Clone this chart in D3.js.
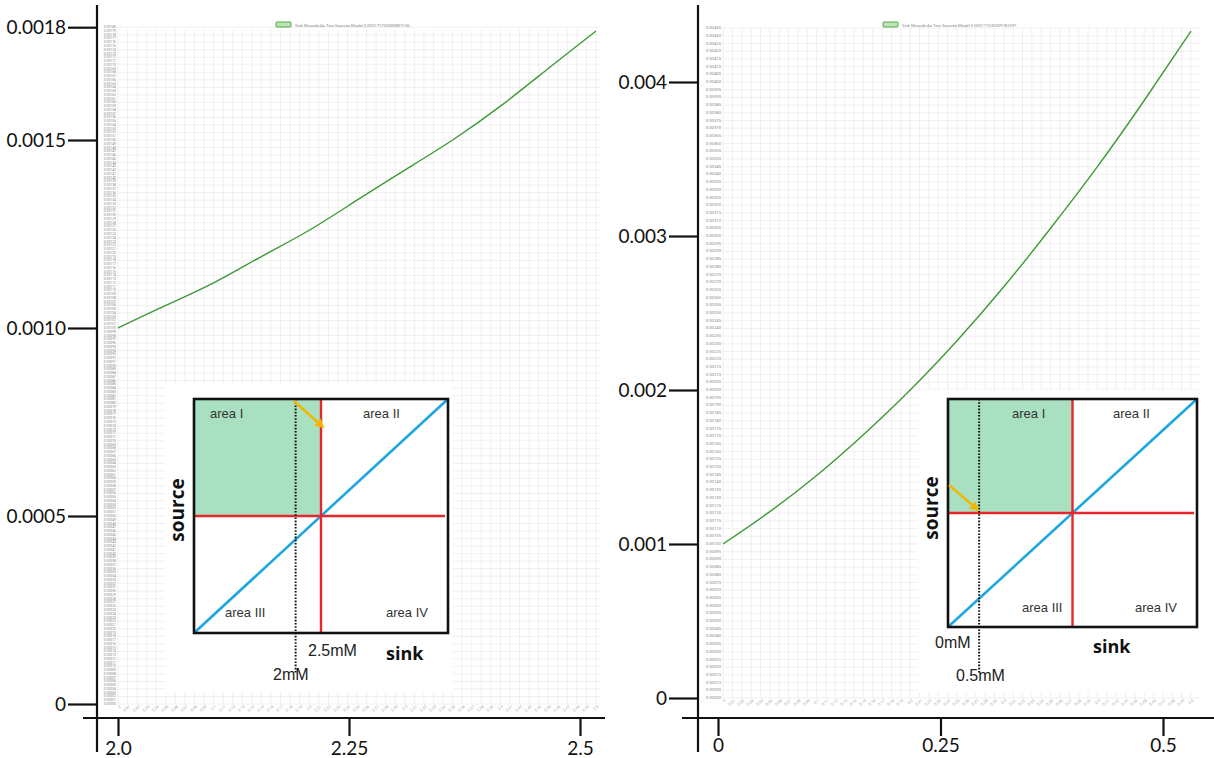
<!DOCTYPE html>
<html>
<head>
<meta charset="utf-8">
<script src="https://cdn.jsdelivr.net/npm/d3@7"></script>
<style>
  body { margin: 0; background: #fff; }
  svg { display: block; }
</style>
</head>
<body>
<svg id="chart" width="1214" height="758"></svg>
<script>
"use strict";

// curve values
const sinkA = [2.0, 2.05, 2.1, 2.15, 2.2, 2.25, 2.3, 2.35, 2.4, 2.45, 2.5];
const fluxA = [0.001, 0.00106, 0.00112, 0.00119, 0.00126, 0.00134, 0.00142, 0.0015, 0.00159, 0.00169, 0.00179];
const sinkB = [0, 0.05, 0.1, 0.15, 0.2, 0.25, 0.3, 0.35, 0.4, 0.45, 0.5];
const fluxB = [0.001, 0.00121, 0.001445, 0.00171, 0.002, 0.00232, 0.00267, 0.00305, 0.00345, 0.00388, 0.00433];

// outer axis ticks
const yTicksA = [0, 0.0005, 0.001, 0.0015, 0.0018];
const xTicksA = [2.0, 2.25, 2.5];
const yTicksB = [0, 0.001, 0.002, 0.003, 0.004];
const xTicksB = [0, 0.25, 0.5];

// legend texts (tiny, barely legible in the source)
const legendA = "Sink Mwords As Two Sources Model 0.000171703000897136";
const legendB = "Sink Mwords As Two Sources Model 0.000171030009782391";

// inset diagram
const areaNames = ["area I", "area II", "area III", "area IV"];
const insetSinkA = [0, 5];      // domain (mM)
const insetMarksA = [2, 2.5];   // dotted line, red threshold
const insetLabelsA = ["2mM", "2.5mM"];
const insetSinkB = [0, 4];
const insetMarksB = [0.5, 2];
const insetLabelsB = ["0mM", "0.5mM"];

const svg = d3.select("#chart");
const tickFont = "Lato, 'Open Sans', sans-serif";

const panels = [
  {
    xs: sinkA, ys: fluxA, yTicks: yTicksA, xTicks: xTicksA, legend: legendA,
    yFmt: (d) => (d === 0 ? "0" : d.toFixed(4)),
    yPx: [704, 328], axisX: 97, axisY: 718, xAxisRange: [118, 580], xAxisLine: [83, 605],
    inner: [118, 596], gridTop: 30, gridRight: 600,
    innerYStep: 0.00001, innerYFont: 3.4, gridYStep: 0.00002, innerYMax: 0.0018,
    innerXStep: 0.01, legendX: 276, labelTop: 6,
    inset: { bg: [165, 383, 453, 692], box: [194, 399, 448, 633], sink: insetSinkA, marks: insetMarksA, labels: insetLabelsA,
      areas: [[210, 418], [363, 418], [225, 617], [386, 617]],
      markLabels: [[273, 680], [308, 656]], sinkLbl: [386, 660], srcLbl: [184, 510],
      arrow: [[294, 401], [323, 427]] }
  },
  {
    xs: sinkB, ys: fluxB, yTicks: yTicksB, xTicks: xTicksB, legend: legendB,
    yFmt: (d) => (d === 0 ? "0" : d.toFixed(3)),
    yPx: [698, 544], axisX: 698, axisY: 718, xAxisRange: [718, 1163], xAxisLine: [682, 1214],
    inner: [723, 1191], gridTop: 28, gridRight: 1200,
    innerYStep: 0.00005, innerYFont: 4.2, gridYStep: 0.00005, innerYMax: 0.00435,
    innerXStep: 0.01, legendX: 883, labelTop: 3,
    inset: { bg: [918, 390, 1212, 692], box: [948, 399, 1197, 627], sink: insetSinkB, marks: insetMarksB, labels: insetLabelsB,
      areas: [[1012, 418], [1113, 418], [1022, 612], [1135, 612]],
      markLabels: [[935, 648], [956, 681]], sinkLbl: [1093, 653], srcLbl: [938, 508],
      arrow: [[949, 485], [978, 510]] }
  }
];

svg.append("defs").append("marker")
  .attr("id", "arrowhead")
  .attr("viewBox", "0 0 10 10")
  .attr("refX", 8).attr("refY", 5)
  .attr("markerWidth", 4).attr("markerHeight", 4)
  .attr("orient", "auto")
  .append("path").attr("d", "M0,0L10,5L0,10z").attr("fill", "#f2b600");

const drawPanel = (p) => {
  const g = svg.append("g");
  const y = d3.scaleLinear().domain([0, 0.001]).range(p.yPx);
  const xIn = d3.scaleLinear().domain([p.xs[0], p.xs[p.xs.length - 1]]).range(p.inner);
  const xOut = d3.scaleLinear().domain([p.xTicks[0], p.xTicks[p.xTicks.length - 1]]).range(p.xAxisRange);
  const gridBottom = y(0);

  //inner chart grid
  const grid = g.append("g").attr("stroke", "#e6e6e6").attr("stroke-width", 0.6);
  grid.selectAll("line.h")
    .data(d3.range(0, p.innerYMax + 1e-9, p.gridYStep))
    .join("line")
    .attr("x1", p.inner[0]).attr("x2", p.gridRight)
    .attr("y1", (d) => y(d)).attr("y2", (d) => y(d));
  const xGrid = d3.range(xIn.domain()[0], xIn.domain()[1] + 1e-9, p.innerXStep);
  grid.selectAll("line.v")
    .data(xGrid)
    .join("line")
    .attr("x1", (d) => xIn(d)).attr("x2", (d) => xIn(d))
    .attr("y1", p.gridTop).attr("y2", gridBottom);

  //inner tick labels (tiny grey)
  g.append("g").selectAll("text")
    .data(d3.range(0, p.innerYMax + 1e-9, p.innerYStep))
    .join("text")
    .attr("x", p.inner[0] - 2).attr("y", (d) => y(d) + 1)
    .attr("text-anchor", "end")
    .attr("font-family", "Roboto, sans-serif")
    .attr("font-size", p.innerYFont)
    .attr("fill", "#888")
    .text((d) => d.toFixed(5));
  g.append("g").selectAll("text")
    .data(xGrid)
    .join("text")
    .attr("transform", (d) => `translate(${xIn(d) + 3},${gridBottom + 3}) rotate(-40)`)
    .attr("text-anchor", "end")
    .attr("font-family", "Roboto, sans-serif")
    .attr("font-size", 4)
    .attr("fill", "#aaa")
    .text((d) => +d.toFixed(2));

  //legend
  g.append("rect")
    .attr("x", p.legendX).attr("y", 22).attr("width", 15).attr("height", 5).attr("rx", 1)
    .attr("fill", "#bfe3b8").attr("stroke", "#4caa47").attr("stroke-width", 1);
  g.append("text")
    .attr("x", p.legendX + 19).attr("y", 26.5)
    .attr("font-family", "Roboto, sans-serif").attr("font-size", 4.2).attr("fill", "#888")
    .text(p.legend);

  //curve
  g.append("path")
    .datum(p.xs.map((d, i) => [d, p.ys[i]]))
    .attr("fill", "none")
    .attr("stroke", "#3f9a35")
    .attr("stroke-width", 1.4)
    .attr("d", d3.line().x((d) => xIn(d[0])).y((d) => y(d[1])).curve(d3.curveNatural));

  //outer axes
  const yAxis = d3.axisLeft(y).tickValues(p.yTicks).tickFormat(p.yFmt).tickSize(29).tickPadding(2).tickSizeOuter(0);
  const yG = g.append("g").attr("transform", `translate(${p.axisX},0)`).call(yAxis);
  yG.select(".domain").remove();
  const xAxis = d3.axisBottom(xOut).tickValues(p.xTicks).tickFormat((d) => (p.xTicks[0] === 2 && d === 2 ? "2.0" : d)).tickSize(18).tickPadding(p.labelTop).tickSizeOuter(0);
  const xG = g.append("g").attr("transform", `translate(0,${p.axisY})`).call(xAxis);
  xG.select(".domain").remove();
  [yG, xG].forEach((a) => {
    a.selectAll("line").attr("stroke", "#111").attr("stroke-width", 2.2);
    a.selectAll("text").attr("font-family", tickFont).attr("font-size", 19).attr("fill", "#111");
  });
  g.append("line")
    .attr("x1", p.axisX).attr("x2", p.axisX).attr("y1", 5).attr("y2", 752)
    .attr("stroke", "#111").attr("stroke-width", 2.2);
  g.append("line")
    .attr("x1", p.xAxisLine[0]).attr("x2", p.xAxisLine[1]).attr("y1", p.axisY).attr("y2", p.axisY)
    .attr("stroke", "#111").attr("stroke-width", 2.2);

  drawInset(g, p.inset);
};

const drawInset = (g, s) => {
  const [bx0, by0, bx1, by1] = s.box;
  const ix = d3.scaleLinear().domain(s.sink).range([bx0, bx1]);
  const iy = d3.scaleLinear().domain(s.sink).range([by1, by0]);
  const mid = (s.sink[0] + s.sink[1]) / 2;

  g.append("rect")
    .attr("x", s.bg[0]).attr("y", s.bg[1]).attr("width", s.bg[2] - s.bg[0]).attr("height", s.bg[3] - s.bg[1])
    .attr("fill", "#fff");
  // area I
  g.append("rect")
    .attr("x", ix(s.sink[0])).attr("y", iy(s.sink[1]))
    .attr("width", ix(mid) - ix(s.sink[0])).attr("height", iy(mid) - iy(s.sink[1]))
    .attr("fill", "#a9e0c2");
  // source == sink diagonal
  g.append("line")
    .attr("x1", ix(s.sink[0])).attr("y1", iy(s.sink[0]))
    .attr("x2", ix(s.sink[1])).attr("y2", iy(s.sink[1]))
    .attr("stroke", "#1ea6e0").attr("stroke-width", 2.6);
  // thresholds
  g.append("line")
    .attr("x1", ix(s.sink[0])).attr("x2", ix(s.sink[1]) - 3)
    .attr("y1", iy(mid)).attr("y2", iy(mid))
    .attr("stroke", "#e8262c").attr("stroke-width", 2.4);
  g.append("line")
    .attr("x1", ix(s.marks[1])).attr("x2", ix(s.marks[1]))
    .attr("y1", by0).attr("y2", by1)
    .attr("stroke", "#e8262c").attr("stroke-width", 2.4);
  g.append("rect")
    .attr("x", bx0).attr("y", by0).attr("width", bx1 - bx0).attr("height", by1 - by0)
    .attr("fill", "none").attr("stroke", "#111").attr("stroke-width", 2.6);
  // dotted marker
  g.append("line")
    .attr("x1", ix(s.marks[0])).attr("x2", ix(s.marks[0]))
    .attr("y1", by0).attr("y2", 673)
    .attr("stroke", "#111").attr("stroke-width", 2).attr("stroke-dasharray", "1.6,1.6");
  // orange arrow
  g.append("line")
    .attr("x1", s.arrow[0][0]).attr("y1", s.arrow[0][1])
    .attr("x2", s.arrow[1][0]).attr("y2", s.arrow[1][1])
    .attr("stroke", "#f2b600").attr("stroke-width", 2.4)
    .attr("marker-end", "url(#arrowhead)");

  g.append("g").selectAll("text")
    .data(areaNames)
    .join("text")
    .attr("x", (d, i) => s.areas[i][0]).attr("y", (d, i) => s.areas[i][1])
    .attr("font-family", "'Liberation Sans', Arial, sans-serif").attr("font-size", 13).attr("fill", "#333")
    .text((d) => d);
  g.append("g").selectAll("text")
    .data(s.labels)
    .join("text")
    .attr("x", (d, i) => s.markLabels[i][0]).attr("y", (d, i) => s.markLabels[i][1])
    .attr("font-family", "'Liberation Sans', Arial, sans-serif").attr("font-size", 16).attr("fill", "#222")
    .text((d) => d);
  g.append("text")
    .attr("x", s.sinkLbl[0]).attr("y", s.sinkLbl[1])
    .attr("font-family", "'Open Sans', sans-serif").attr("font-weight", 700).attr("font-size", 18).attr("fill", "#111")
    .text("sink");
  g.append("text")
    .attr("transform", `translate(${s.srcLbl[0]},${s.srcLbl[1]}) rotate(-90)`)
    .attr("text-anchor", "middle")
    .attr("font-family", "'Open Sans', sans-serif").attr("font-weight", 700).attr("font-size", 19).attr("fill", "#111")
    .text("source");
};

panels.forEach(drawPanel);
</script>
</body>
</html>
